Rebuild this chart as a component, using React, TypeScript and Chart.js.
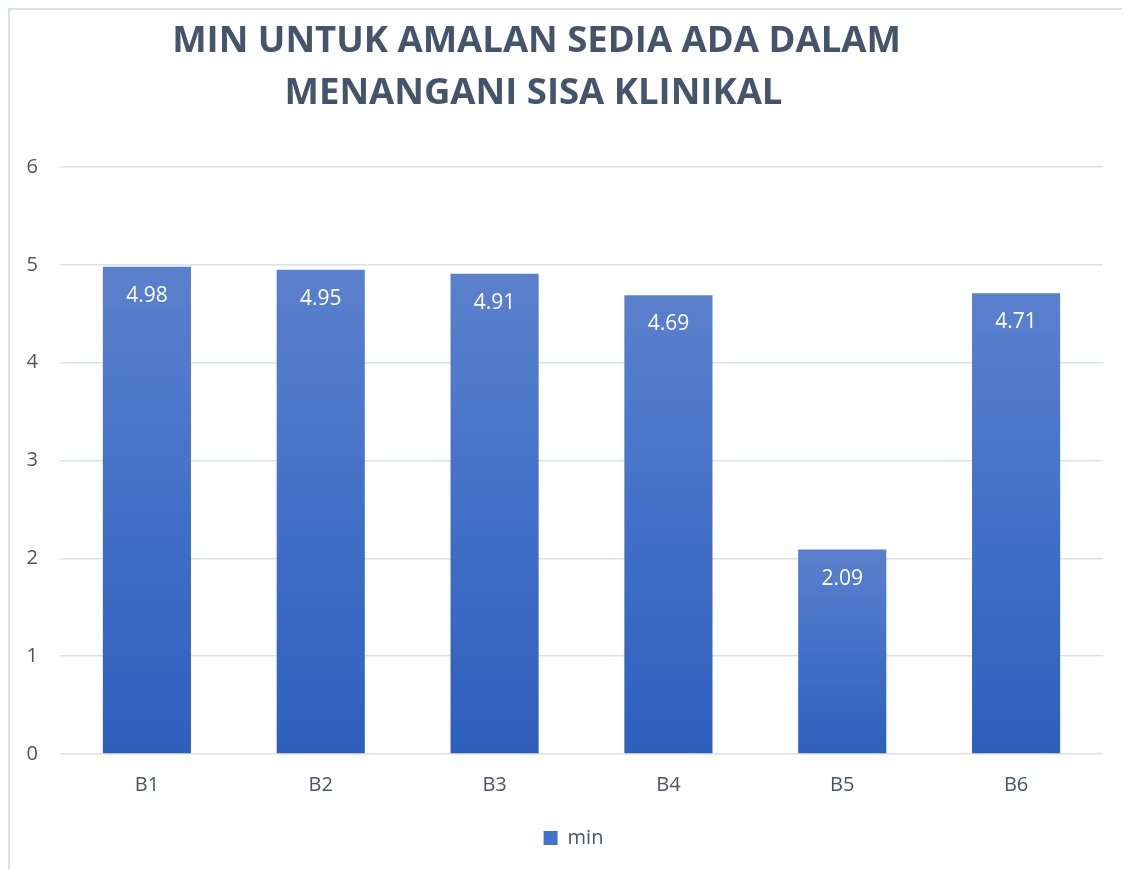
import React, { useEffect, useRef } from "react";
import { Chart, registerables } from "chart.js";

Chart.register(...registerables);

const categories = ["B1", "B2", "B3", "B4", "B5", "B6"];
const values = [4.98, 4.95, 4.91, 4.69, 2.09, 4.71];
const yTicks = [0, 1, 2, 3, 4, 5, 6];
const seriesName = "min";
const titleLines = ["MIN UNTUK AMALAN SEDIA ADA DALAM", "MENANGANI SISA KLINIKAL"];

const FONT = '"Open Sans", "Noto Sans", sans-serif';
const TEXT = "#4A5568";

const titlePlugin = {
  id: "customTitle",
  afterDraw(chart: any) {
    const ctx = chart.ctx;
    ctx.save();
    ctx.font = `bold 36.5px ${FONT}`;
    ctx.fillStyle = "#44546A";
    ctx.textAlign = "center";
    ctx.textBaseline = "middle";
    ctx.fillText(titleLines[0], 526.5, 32);
    ctx.fillText(titleLines[1], 523.5, 84);
    ctx.restore();
  },
};

const labelPlugin = {
  id: "barLabels",
  afterDatasetsDraw(chart: any) {
    const ctx = chart.ctx;
    const meta = chart.getDatasetMeta(0);
    ctx.save();
    ctx.font = `21px ${FONT}`;
    ctx.fillStyle = "#FFFFFF";
    ctx.textAlign = "center";
    ctx.textBaseline = "middle";
    meta.data.forEach((bar: any, i: number) => {
      ctx.fillText(values[i].toFixed(2), bar.x, bar.y + 29);
    });
    ctx.restore();
  },
};

const legendShift = {
  id: "legendShift",
  afterLayout(chart: any) {
    const lg = chart.legend;
    if (lg) {
      lg.left += 17;
      lg.right += 17;
    }
  },
};

export default function App() {
  const ref = useRef<HTMLCanvasElement>(null);
  useEffect(() => {
    if (!ref.current) return;
    const chart = new Chart(ref.current, {
      type: "bar",
      data: {
        labels: categories,
        datasets: [
          {
            label: seriesName,
            data: values,
            categoryPercentage: 1,
            barPercentage: 0.507,
            backgroundColor: (c: any) => {
              const ch = c.chart;
              const ys = ch.scales && ch.scales.y;
              if (!ys || c.raw === undefined) return "#4472C4";
              const top = ys.getPixelForValue(c.raw);
              const bottom = ys.getPixelForValue(0);
              if (!isFinite(top) || !isFinite(bottom) || top === bottom) return "#4472C4";
              const g = ch.ctx.createLinearGradient(0, top, 0, bottom);
              g.addColorStop(0, "#5B80CC");
              g.addColorStop(0.5, "#4270C8");
              g.addColorStop(1, "#2E5FBB");
              return g;
            },
          },
        ],
      },
      options: {
        animation: false,
        responsive: false,
        maintainAspectRatio: false,
        layout: { padding: { left: 0, right: 27, top: 157, bottom: 12 } },
        scales: {
          x: {
            grid: { display: false, drawTicks: false },
            border: { display: false },
            ticks: { color: TEXT, font: { family: FONT, size: 20 }, padding: 19 },
          },
          y: {
            min: 0,
            max: 6,
            afterBuildTicks: (axis: any) => {
              axis.ticks = yTicks.map((v) => ({ value: v }));
            },
            afterFit: (axis: any) => {
              axis.width = 50;
            },
            grid: { color: "#DDE1E6", lineWidth: 1.5, drawTicks: false },
            border: { display: false },
            ticks: { color: TEXT, font: { family: FONT, size: 20 }, padding: 22 },
          },
        },
        plugins: {
          title: { display: false },
          tooltip: { enabled: false },
          legend: {
            display: true,
            position: "bottom",
            labels: {
              color: TEXT,
              font: { family: FONT, size: 20 },
              boxWidth: 14,
              boxHeight: 14,
              padding: 12,
              generateLabels: () => [
                {
                  text: seriesName,
                  fillStyle: "#4472C8",
                  strokeStyle: "#4472C8",
                  lineWidth: 0,
                  hidden: false,
                  datasetIndex: 0,
                  fontColor: TEXT,
                } as any,
              ],
            },
          },
        },
      },
      plugins: [titlePlugin, labelPlugin, legendShift],
    });
    return () => chart.destroy();
  }, []);
  return (
    <div
      style={{
        width: 1122,
        height: 862,
        borderLeft: "2px solid #DDE1E6",
        borderTop: "2px solid #DDE1E6",
        boxSizing: "border-box",
        overflow: "hidden",
      }}
    >
      <canvas ref={ref} width={1120} height={860} style={{ display: "block" }} />
    </div>
  );
}
